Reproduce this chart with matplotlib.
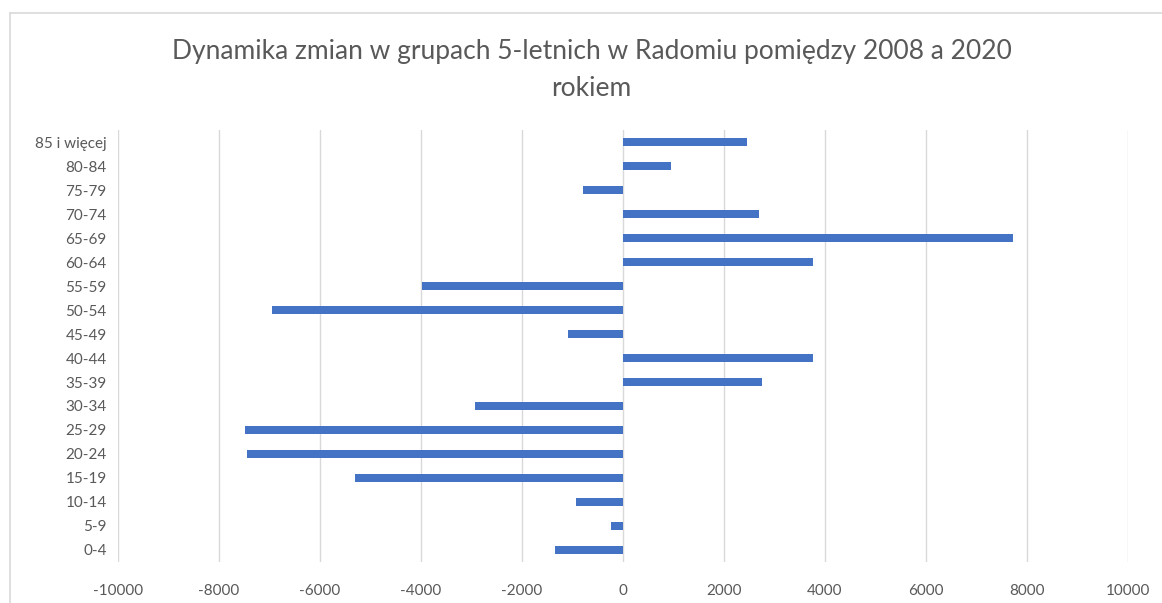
import matplotlib.pyplot as plt
from matplotlib.lines import Line2D

groups = ['0-4', '5-9', '10-14', '15-19', '20-24', '25-29', '30-34', '35-39',
          '40-44', '45-49', '50-54', '55-59', '60-64', '65-69', '70-74',
          '75-79', '80-84', '85 i więcej']
changes = [-1340, -230, -935, -5310, -7450, -7480, -2930, 2750,
           3760, -1090, -6950, -3970, 3760, 7720, 2700,
           -800, 950, 2450]
x_ticks = list(range(-10000, 10001, 2000))

plt.rcParams['font.family'] = ['Lato', 'DejaVu Sans']
text_col = '#595959'

fig = plt.figure(figsize=(11.62, 6.03), dpi=100)
ax = fig.add_axes([0.1015, 0.068, 0.8692, 0.7164])

ax.barh(range(len(groups)), changes, height=0.36, color='#4472C4', zorder=3)

ax.set_xlim(-10000, 10000)
ax.set_ylim(-0.5, len(groups) - 0.5)
ax.set_xticks(x_ticks)
ax.set_xticklabels([str(t) for t in x_ticks])
ax.set_yticks(range(len(groups)))
ax.set_yticklabels(groups)
ax.tick_params(length=0, labelsize=11, colors=text_col)
ax.tick_params(axis='x', pad=16)
ax.tick_params(axis='y', pad=8)
ax.grid(axis='x', color='#D9D9D9', linewidth=1, zorder=0)
for s in ax.spines.values():
    s.set_visible(False)

fig.text(0.509, 0.915, 'Dynamika zmian w grupach 5-letnich w Radomiu pomiędzy 2008 a 2020',
         ha='center', va='center', fontsize=19, color=text_col)
fig.text(0.509, 0.853, 'rokiem', ha='center', va='center', fontsize=19, color=text_col)

# chart border (top and left edges visible)
fig.add_artist(Line2D([10 / 1162, 1], [1 - 13 / 603, 1 - 13 / 603],
                      transform=fig.transFigure, color='#D9D9D9', linewidth=1.2))
fig.add_artist(Line2D([10 / 1162, 10 / 1162], [0, 1 - 13 / 603],
                      transform=fig.transFigure, color='#D9D9D9', linewidth=1.2))

fig.savefig('out.png', dpi=100)
